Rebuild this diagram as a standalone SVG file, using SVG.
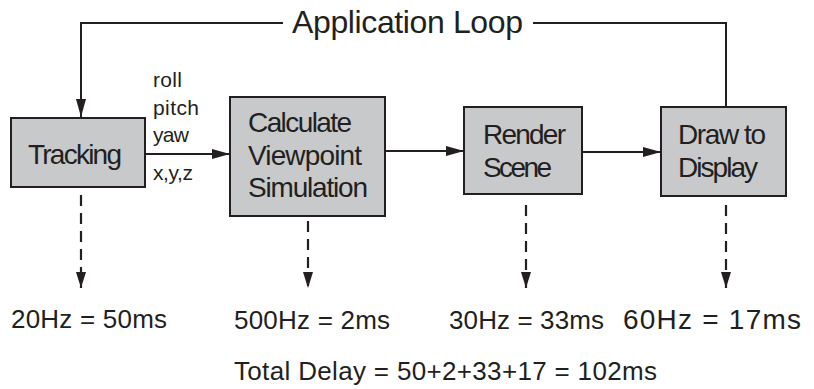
<svg xmlns="http://www.w3.org/2000/svg" width="814" height="389" viewBox="0 0 814 389">
<style>
.box{fill:#c8c9cb;stroke:#231f20;stroke-width:2}
.t{font-family:"Liberation Sans",Arial,sans-serif;fill:#231f20}
.bt{font-size:28px}
.lb{font-size:26px}
.sm{font-size:21px}
.ln{fill:none;stroke:#231f20;stroke-width:2}
.dash{fill:none;stroke:#231f20;stroke-width:2.2;stroke-dasharray:11 7}
</style>
<defs>
<marker id="ah" viewBox="0 0 18 10" refX="18" refY="5" markerWidth="18" markerHeight="10" markerUnits="userSpaceOnUse" orient="auto">
<path d="M0,0 L18,5 L0,10 Z" fill="#231f20"/>
</marker>
<marker id="dh" viewBox="0 0 16 10" refX="16" refY="5" markerWidth="16" markerHeight="10" markerUnits="userSpaceOnUse" orient="auto">
<path d="M0,0 L16,5 L0,10 Z" fill="#231f20"/>
</marker>
</defs>
<rect width="814" height="389" fill="#ffffff"/>
<g id="connectors">
<path class="ln" d="M283,23 H81 V117" marker-end="url(#ah)"/>
<path class="ln" d="M533,23 H726 V107"/>
<path class="ln" d="M145,154 H230" marker-end="url(#ah)"/>
<path class="ln" d="M385,151 H464" marker-end="url(#ah)"/>
<path class="ln" d="M582,152 H661" marker-end="url(#ah)"/>
<path class="dash" d="M81,195 V288" marker-end="url(#dh)"/>
<path class="dash" d="M308,221 V288" marker-end="url(#dh)"/>
<path class="dash" d="M526,205 V288" marker-end="url(#dh)"/>
<path class="dash" d="M726,205 V288" marker-end="url(#dh)"/>
</g>
<g id="loop-label">
<text class="t" x="292" y="33" font-size="32" textLength="231">Application Loop</text>
</g>
<g id="tracking">
<rect class="box" x="11" y="118" width="134" height="69"/>
<text class="t bt" x="28" y="164" textLength="94">Tracking</text>
</g>
<g id="edge-labels">
<text class="t sm" x="153" y="87" textLength="29">roll</text>
<text class="t sm" x="153" y="115" textLength="46">pitch</text>
<text class="t sm" x="153" y="142" textLength="36">yaw</text>
<text class="t sm" x="153" y="180" textLength="40">x,y,z</text>
</g>
<g id="calculate">
<rect class="box" x="230" y="97" width="155" height="119"/>
<text class="t bt" x="248" y="132" textLength="104">Calculate</text>
<text class="t bt" x="248" y="165" textLength="114">Viewpoint</text>
<text class="t bt" x="248" y="197" textLength="120">Simulation</text>
</g>
<g id="render">
<rect class="box" x="464" y="107" width="118" height="87"/>
<text class="t bt" x="483" y="144" textLength="83">Render</text>
<text class="t bt" x="483" y="177" textLength="69">Scene</text>
</g>
<g id="draw">
<rect class="box" x="661" y="107" width="125" height="89"/>
<text class="t bt" x="678" y="144" textLength="88">Draw to</text>
<text class="t bt" x="678" y="177" textLength="80">Display</text>
</g>
<g id="timings">
<text class="t lb" x="11" y="328" textLength="156">20Hz = 50ms</text>
<text class="t lb" x="234" y="329" textLength="156">500Hz = 2ms</text>
<text class="t lb" x="449" y="329" textLength="155">30Hz = 33ms</text>
<text class="t lb" x="623" y="329" style="font-size:28px" textLength="178">60Hz = 17ms</text>
<text class="t lb" x="234" y="380" textLength="423">Total Delay = 50+2+33+17 = 102ms</text>
</g>
</svg>
